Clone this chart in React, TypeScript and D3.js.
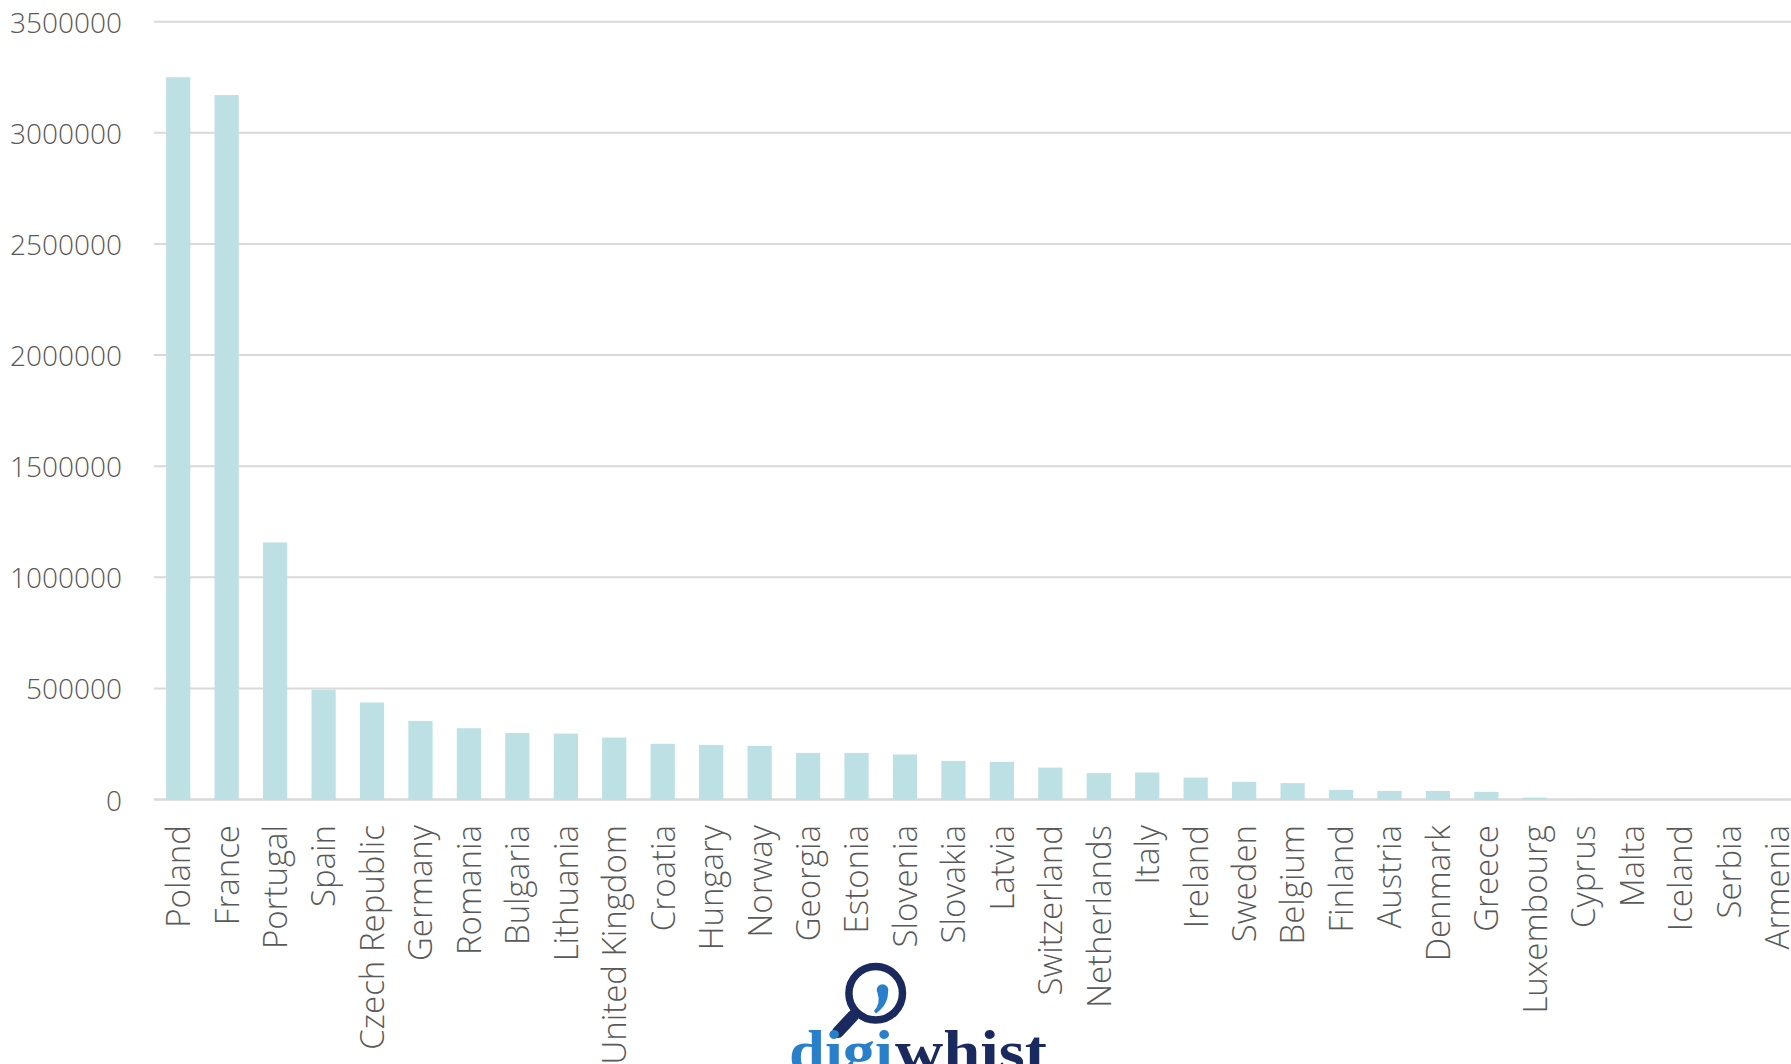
import React from "react";
import * as d3 from "d3";

const categories = [
  "Poland", "France", "Portugal", "Spain", "Czech Republic", "Germany", "Romania",
  "Bulgaria", "Lithuania", "United Kingdom", "Croatia", "Hungary", "Norway", "Georgia",
  "Estonia", "Slovenia", "Slovakia", "Latvia", "Switzerland", "Netherlands", "Italy",
  "Ireland", "Sweden", "Belgium", "Finland", "Austria", "Denmark", "Greece",
  "Luxembourg", "Cyprus", "Malta", "Iceland", "Serbia", "Armenia",
];

const values = [
  3250000, 3170000, 1157000, 494000, 437000, 354000, 321000,
  300000, 297000, 279000, 251000, 246000, 242000, 210000,
  210000, 203000, 174000, 170000, 144000, 119000, 122000,
  99000, 80000, 74000, 44000, 39000, 39000, 35000,
  9000, 3000, 800, 500, 300, 200,
];

const yTicks = [0, 500000, 1000000, 1500000, 2000000, 2500000, 3000000, 3500000];

const W = 1791;
const H = 1064;
const plotLeft = 154;
const step = 48.45;
const y0 = 799.6;
const yTop = 21.7;

export default function App() {
  const y = d3.scaleLinear().domain([0, 3500000]).range([y0, yTop]);
  const x = d3
    .scaleBand<string>()
    .domain(categories)
    .range([plotLeft, plotLeft + categories.length * step])
    .paddingInner(0.5)
    .paddingOuter(0.25);

  const font = "'Open Sans', 'Segoe UI', sans-serif";
  const textColor = "#595959";
  const gridColor = "#d9d9d9";
  const barColor = "#bce0e3";
  const navy = "#1b2a5e";
  const blue = "#2a7fcb";

  return (
    <>
      <style>{`body{margin:0;}`}</style>
      <svg width={W} height={H} viewBox={`0 0 ${W} ${H}`} style={{ display: "block" }}>
        <rect x={0} y={0} width={W} height={H} fill="#ffffff" />
        {yTicks.map((t) => (
          <g key={t}>
            <line x1={plotLeft} x2={W} y1={y(t)} y2={y(t)} stroke={gridColor} strokeWidth={t === 0 ? 2.5 : 2} />
            <text
              x={122}
              y={y(t)}
              textAnchor="end"
              dominantBaseline="central"
              fontFamily={font}
              fontWeight={300}
              fontSize={28}
              fill={textColor}
            >
              {String(t)}
            </text>
          </g>
        ))}
        {categories.map((c, i) => {
          const v = values[i];
          const top = y(v);
          return (
            <rect
              key={c}
              x={x(c)}
              y={top}
              width={x.bandwidth()}
              height={Math.max(0, y0 - top)}
              fill={barColor}
            />
          );
        })}
        {categories.map((c) => {
          const cx = (x(c) as number) + x.bandwidth() / 2;
          return (
            <text
              key={"l" + c}
              transform={`translate(${cx},825) rotate(-90)`}
              textAnchor="end"
              dy="0.36em"
              fontFamily={font}
              fontWeight={300}
              fontSize={33}
              fill={textColor}
            >
              {c}
            </text>
          );
        })}
        {/* digiwhist logo */}
        <g>
          <circle cx={875.7} cy={993.3} r={26.8} fill="none" stroke={navy} strokeWidth={7.5} />
          <line x1={853} y1={1016} x2={838} y2={1032} stroke={navy} strokeWidth={12} strokeLinecap="round" />
          <circle cx={882.5} cy={990} r={5.8} fill={blue} />
          <path d="M 888 990 Q 889 1004 876 1013.5 L 874 1011 Q 881 1003 877.5 993 Z" fill={blue} />
          <text
            x={789}
            y={1071}
            fontFamily="'Liberation Serif', 'Times New Roman', serif"
            fontWeight={700}
            fontSize={60}
            fill={blue}
            textLength={104}
            lengthAdjust="spacingAndGlyphs"
          >
            digi
          </text>
          <text
            x={895}
            y={1071}
            fontFamily="'Liberation Serif', 'Times New Roman', serif"
            fontWeight={700}
            fontSize={60}
            fill={navy}
            textLength={152}
            lengthAdjust="spacingAndGlyphs"
          >
            whist
          </text>
        </g>
      </svg>
    </>
  );
}
